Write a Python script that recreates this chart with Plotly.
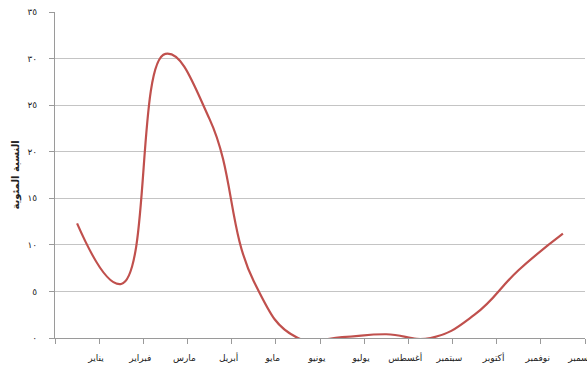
import plotly.graph_objects as go

months = ["يناير", "فبراير", "مارس", "أبريل", "مايو", "يونيو",
          "يوليو", "أغسطس", "سبتمبر", "أكتوبر", "نوفمبر", "ديسمبر"]
percent = [12.3, 5.8, 30.5, 23.5, 6.1, 0.0, 0.1, 0.4, 0.0, 2.5, 7.3, 11.2]

y_ticks = [0, 5, 10, 15, 20, 25, 30, 35]
y_tick_labels = ["٠", "٥", "١٠", "١٥", "٢٠", "٢٥", "٣٠", "٣٥"]
y_title = "<b>النسبة المئوية</b>"

font_family = "DejaVu Sans, Noto Sans, sans-serif"
grid_color = "#c4c4c4"
axis_color = "#9a9a9a"
text_color = "#222222"

fig = go.Figure(
    go.Scatter(
        x=months,
        y=percent,
        mode="lines",
        line=dict(color="#c0504d", width=2.2, shape="spline", smoothing=1.3),
        hoverinfo="x+y",
    )
)

fig.update_layout(
    width=587,
    height=372,
    margin=dict(l=55, r=2, t=12, b=34, autoexpand=False),
    paper_bgcolor="white",
    plot_bgcolor="white",
    showlegend=False,
    font=dict(family=font_family, size=9, color=text_color),
)

fig.update_xaxes(
    type="category",
    range=[-0.5, 11.5],
    automargin=False,
    tickson="boundaries",
    ticks="outside",
    ticklen=5,
    tickcolor=axis_color,
    ticklabelshift=19,
    ticklabelstandoff=11,
    showline=True,
    linecolor=axis_color,
    linewidth=1,
    showgrid=False,
    tickfont=dict(size=9, color=text_color),
)

fig.update_yaxes(
    range=[0, 35],
    automargin=False,
    tickvals=y_ticks,
    ticktext=y_tick_labels,
    ticks="outside",
    ticklen=5,
    tickcolor=axis_color,
    showline=True,
    linecolor=axis_color,
    linewidth=1,
    showgrid=True,
    gridcolor=grid_color,
    gridwidth=1,
    zeroline=False,
    ticklabelstandoff=10,
    tickfont=dict(size=9, color=text_color),
    title=dict(text=y_title, font=dict(size=10, color=text_color), standoff=6),
)

fig.write_html("out.html")
